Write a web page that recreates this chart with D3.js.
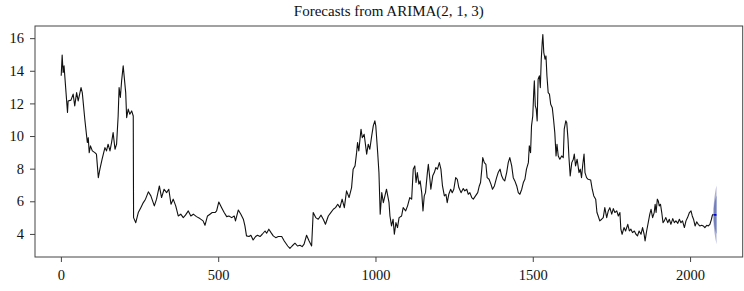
<!DOCTYPE html>
<html>
<head>
<meta charset="utf-8">
<script src="https://cdn.jsdelivr.net/npm/d3@7"></script>
<style>
  body { margin: 0; background: #fff; }
</style>
</head>
<body>
<div id="chart"></div>
<script>
let obsT = [1,4,7,10,21,23,32,39,44,50,55,64,68,76,84,87,90,94,100,108,113,119,124,131,140,145,150,156,161,166,172,177,182,185,189,193,198,201,206,209,214,219,225,230,
  231,238,246,254,262,269,278,286,297,304,313,320,328,336,343,350,357,365,373,381,389,396,405,413,421,431,442,452,458,466,474,481,490,495,502,511,519,527,534,543,551,555,564,572,580,585,590,598,604,611,619,625,633,640,649,654,661,668,675,683,691,702,710,721,728,735,744,752,760,767,773,781,789,797,
  802,810,818,827,834,841,850,858,866,873,880,887,894,901,908,916,924,929,935,940,943,947,954,958,964,972,977,982,988,993,998,1001,1007,1011,1015,1020,1025,1030,1035,1041,1043,1046,1051,1056,1060,1065,1070,1075,1083,1088,1096,1102,1109,1115,1120,1125,1129,1133,1138,1142,1147,1151,1155,1159,1165,1168,1173,1176,1182,1187,1192,1197,1203,1208,1213,1219,1224,1228,1233,1239,1244,1249,1255,1260,1265,1272,1279,1284,1290,1295,1300,1306,1311,1318,1325,1330,1334,1338,1341,1346,1351,1355,1361,1367,1372,1378,1385,1390,1396,1401,1406,1411,1417,1422,1427,1433,1438,1443,1449,1454,1459,1465,1470,1475,1480,1486,1489,1493,1496,
  1500,1503,1505,1508,1511,1514,1517,1521,1524,1527,1530,1532,1535,1539,1542,1545,1549,1553,1557,1562,1566,1570,1574,1577,1581,1586,1592,1597,1600,1605,1608,1612,1615,1619,1624,1629,1632,1636,1641,1647,1651,1655,1659,1663,1666,1671,1676,1684,1689,1694,1700,1704,1708,1713,1719,1724,1729,1735,1740,1745,1751,1756,1761,1767,1772,1777,1780,1784,1790,1795,
  1802,1807,1812,1817,1823,1828,1833,1838,1844,1849,1854,1857,1862,1867,1872,1876,1881,1886,1889,1892,1896,1899,1902,1906,1910,1914,1918,1923,1929,1934,1939,1945,1950,1955,1961,1966,1971,1976,1982,1987,1992,1998,2003,2007,2011,2016,2021,2026,2031,2037,2042,2047,2053,2058,2063,2068,2071,2074];
let obsV = [13.69,14.96,13.89,14.3,11.44,12.15,12.2,12.57,11.85,12.66,12.15,12.97,12.66,11.03,9.6,9.9,8.98,9.4,9.09,8.98,8.89,7.45,7.97,8.58,9.29,9.09,9.5,9.09,9.6,10.21,9.19,9.5,11.23,12.97,12.36,13.38,14.3,13.69,12.66,11.13,11.65,11.34,11.54,11.23,
  5.0,4.69,5.31,5.61,5.92,6.13,6.58,6.33,5.72,6.13,6.94,6.23,6.74,6.53,6.74,5.82,6.13,5.72,5.1,5.21,5.0,5.15,5.41,5.1,5.21,5.06,4.94,4.8,4.53,5.1,5.21,5.31,5.31,5.41,5.96,5.61,5.31,5.06,5.1,5.0,5.1,4.8,5.47,5.21,4.9,4.49,3.88,3.84,3.92,3.63,3.84,3.92,3.84,3.98,4.18,4.04,4.29,4.08,3.88,3.77,3.84,3.84,3.57,3.26,3.11,3.26,3.43,3.26,3.31,3.22,3.37,3.92,3.57,3.26,
  5.31,5.0,4.9,5.15,4.9,4.59,5.1,5.31,5.51,5.61,5.82,5.61,6.13,5.61,6.64,6.23,6.84,7.97,8.17,8.98,9.6,9.09,10.42,9.9,10.11,8.89,9.5,9.19,10.01,10.62,10.93,10.62,8.98,7.76,5.21,6.53,5.92,6.33,6.74,6.13,5.92,5.1,4.49,4.9,3.98,4.69,4.39,5.0,5.1,5.61,5.41,5.72,6.23,6.13,7.97,8.17,7.15,7.76,7.05,7.25,6.53,5.41,6.33,6.53,7.76,8.27,7.35,6.74,7.56,7.76,8.07,7.97,8.37,7.97,6.94,6.33,6.43,5.92,6.43,6.74,6.53,6.74,7.45,7.35,6.84,6.53,6.78,6.64,6.74,6.43,6.53,6.23,6.13,6.33,6.53,6.94,7.15,7.97,8.68,8.37,8.27,7.45,7.35,7.05,6.74,6.94,7.45,7.76,7.97,7.56,7.35,7.25,7.76,8.37,8.68,8.17,7.45,7.25,6.94,6.53,6.43,6.74,7.15,7.35,7.97,8.37,9.4,8.98,10.62,
  11.23,12.66,13.38,11.85,11.65,10.93,13.48,13.69,12.97,14.71,15.73,16.22,15.12,14.71,14.91,13.69,12.66,12.57,11.95,11.74,11.03,10.21,8.78,9.5,8.78,8.58,8.78,8.68,10.42,10.93,10.82,9.81,8.68,7.56,8.37,8.58,8.89,8.17,8.58,7.76,7.97,7.45,8.27,8.89,7.76,7.45,7.35,7.31,6.74,6.33,6.13,5.31,5.1,4.8,4.9,5.0,5.61,5.0,5.41,5.61,5.21,5.55,5.31,5.41,5.1,5.31,4.29,3.98,4.39,4.18,
  4.59,4.18,4.29,4.08,4.18,3.98,3.88,4.18,3.98,4.39,3.98,3.57,4.18,4.69,5.21,5.51,5.0,5.31,5.82,5.31,6.13,6.02,5.72,5.82,5.31,4.69,4.8,5.0,4.69,4.9,4.59,4.94,4.69,4.8,4.65,4.9,4.69,4.8,4.39,4.8,5.0,5.31,5.41,5.1,4.9,4.49,4.74,4.59,4.49,4.53,4.49,4.39,4.53,4.49,4.59,4.9,5.15,5.21];

// forecast horizon with 80% and 95% intervals
let fcT = [2075,2076,2077,2078,2079,2080,2081,2082,2083,2084];
let fcMean = [5.18,5.17,5.17,5.16,5.16,5.17,5.17,5.17,5.16,5.16];
let lo80 = [4.80,4.65,4.52,4.42,4.34,4.26,4.18,4.12,4.05,3.99];
let hi80 = [5.54,5.69,5.82,5.92,6.00,6.08,6.16,6.22,6.29,6.35];
let lo95 = [4.60,4.37,4.18,4.03,3.90,3.78,3.66,3.56,3.46,3.37];
let hi95 = [5.74,5.97,6.16,6.31,6.44,6.56,6.68,6.78,6.88,6.97];

let xTicks = [0, 500, 1000, 1500, 2000];
let yTicks = [4, 6, 8, 10, 12, 14, 16];
let title = "Forecasts from ARIMA(2, 1, 3)";

let width = 744, height = 291;
let plot = {left: 35, top: 26, right: 742.7, bottom: 257};
let serif = "'Liberation Serif', 'Times New Roman', Times, serif";

let svg = d3.select("#chart").append("svg")
  .attr("width", width)
  .attr("height", height)
  .attr("font-family", serif);

// R style: pad the data range by 4% on each side
function padded(lo, hi) {
  let p = (hi - lo) * 0.04;
  return [lo - p, hi + p];
}

let xLo = d3.min(obsT), xHi = d3.max(fcT);
let yLo = Math.min(d3.min(obsV), d3.min(lo95));
let yHi = Math.max(d3.max(obsV), d3.max(hi95));

let x = d3.scaleLinear().domain(padded(xLo, xHi)).range([plot.left, plot.right]);
let y = d3.scaleLinear().domain(padded(yLo, yHi)).range([plot.bottom, plot.top]);

let obs = obsT.map((t, i) => ({t: t, v: obsV[i]}));
let fc = fcT.map((t, i) => ({t: t, m: fcMean[i], l80: lo80[i], h80: hi80[i], l95: lo95[i], h95: hi95[i]}));

// fan: 95% first, then 80% on top
let area95 = d3.area().x(d => x(d.t)).y0(d => y(d.l95)).y1(d => y(d.h95));
let area80 = d3.area().x(d => x(d.t)).y0(d => y(d.l80)).y1(d => y(d.h80));

svg.append("path").datum(fc).attr("d", area95).attr("fill", "#aab0d4");
svg.append("path").datum(fc).attr("d", area80).attr("fill", "#7380bb");

svg.append("path").datum(obs)
  .attr("d", d3.line().x(d => x(d.t)).y(d => y(d.v)))
  .attr("fill", "none")
  .attr("stroke", "#111")
  .attr("stroke-width", 1.1)
  .attr("stroke-linejoin", "round");

svg.append("path").datum(fc)
  .attr("d", d3.line().x(d => x(d.t)).y(d => y(d.m)))
  .attr("fill", "none")
  .attr("stroke", "#0000dd")
  .attr("stroke-width", 1.5);

// axes
let xAxis = svg.append("g")
  .attr("transform", "translate(0," + plot.bottom + ")")
  .call(d3.axisBottom(x).tickValues(xTicks).tickFormat(d3.format("d")).tickSize(5).tickSizeOuter(0).tickPadding(8));

let yAxis = svg.append("g")
  .attr("transform", "translate(" + plot.left + ",0)")
  .call(d3.axisLeft(y).tickValues(yTicks).tickSize(5).tickSizeOuter(0).tickPadding(6));

[xAxis, yAxis].forEach(a => {
  a.attr("font-family", serif).attr("font-size", 14.5);
  a.select(".domain").remove();
  a.selectAll("line").attr("stroke", "#444");
  a.selectAll("text").attr("fill", "#111");
});

// box round the plot
svg.append("rect")
  .attr("x", plot.left)
  .attr("y", plot.top)
  .attr("width", plot.right - plot.left)
  .attr("height", plot.bottom - plot.top)
  .attr("fill", "none")
  .attr("stroke", "#444")
  .attr("stroke-width", 1);

svg.append("text")
  .attr("x", (plot.left + plot.right) / 2)
  .attr("y", 15.5)
  .attr("text-anchor", "middle")
  .attr("font-family", serif)
  .attr("font-size", 15)
  .attr("fill", "#111")
  .text(title);
</script>
</body>
</html>
